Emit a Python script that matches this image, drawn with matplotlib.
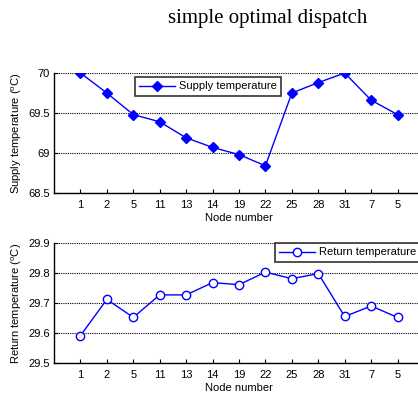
import numpy as np
import matplotlib
matplotlib.use("Agg")
import matplotlib.pyplot as plt

plt.rcParams['font.family'] = ['Liberation Sans', 'DejaVu Sans']
plt.rcParams['mathtext.fontset'] = 'custom'
plt.rcParams['mathtext.rm'] = 'Liberation Sans'

# node order along the pipe
nodes = ['1', '2', '5', '11', '13', '14', '19', '22', '25', '28', '31', '7', '5']
supply_temp = [70.0, 69.75, 69.48, 69.39, 69.19, 69.07, 68.98, 68.84, 69.75, 69.88, 70.0, 69.66, 69.48]
return_temp = [29.591, 29.712, 29.652, 29.727, 29.727, 29.768, 29.761, 29.803, 29.781, 29.798, 29.655, 29.69, 29.652]

W, H = 418, 394
fig = plt.figure(figsize=(W / 100, H / 100), dpi=100)

x = np.arange(1, len(nodes) + 1)

def setup(ax, ylim, yticks, ylabel):
    ax.set_xlim(0, 14)
    ax.set_ylim(*ylim)
    ax.set_yticks(yticks)
    ax.set_xticks(x)
    ax.set_xticklabels(nodes)
    ax.tick_params(direction='in', length=3, width=0.8, labelsize=8, pad=3)
    ax.tick_params(axis='x', pad=5)
    ax.yaxis.grid(True, linestyle=(0, (1, 1)), color='black', linewidth=0.8)
    for s in ['top', 'right']:
        ax.spines[s].set_visible(False)
    ax.spines['left'].set_linewidth(1.0)
    ax.spines['bottom'].set_linewidth(1.0)
    ax.set_xlabel('Node number', fontsize=8, labelpad=2)
    ax.set_ylabel(ylabel, fontsize=8, labelpad=3)

def add_legend(ax, x0, y0):
    # x0, y0 = top-left corner of the legend box in pixels
    leg = ax.legend(loc='upper left', bbox_to_anchor=(x0 / W, 1 - y0 / H),
                    bbox_transform=fig.transFigure, fontsize=8, fancybox=False,
                    borderaxespad=0, handlelength=3.2, borderpad=0.4,
                    handletextpad=0.35)
    leg.get_frame().set_edgecolor('black')
    leg.get_frame().set_linewidth(1.2)

# top: supply temperature
ax1 = fig.add_axes([54 / W, 1 - 193 / H, 370 / W, 120 / H])
ax1.plot(x, supply_temp, color='blue', lw=1, marker='D', ms=5.5,
         mfc='blue', mec='blue', label='Supply temperature')
setup(ax1, (68.5, 70), [68.5, 69, 69.5, 70], r'Supply temperature ($^{\rm o}$C)')
ax1.set_yticklabels(['68.5', '69', '69.5', '70'])
add_legend(ax1, 135, 77)

# bottom: return temperature
ax2 = fig.add_axes([54 / W, 1 - 363 / H, 370 / W, 120 / H])
ax2.plot(x, return_temp, color='blue', lw=1, marker='o', ms=6,
         mfc='white', mec='blue', label='Return temperature')
setup(ax2, (29.5, 29.9), [29.5, 29.6, 29.7, 29.8, 29.9], r'Return temperature ($^{\rm o}$C)')
add_legend(ax2, 275, 243)

fig.text(268 / W, 1 - 18 / H, 'simple optimal dispatch', ha='center', va='center',
         fontsize=15, family=['Liberation Serif', 'DejaVu Serif'])

fig.savefig('out.png', dpi=100)
